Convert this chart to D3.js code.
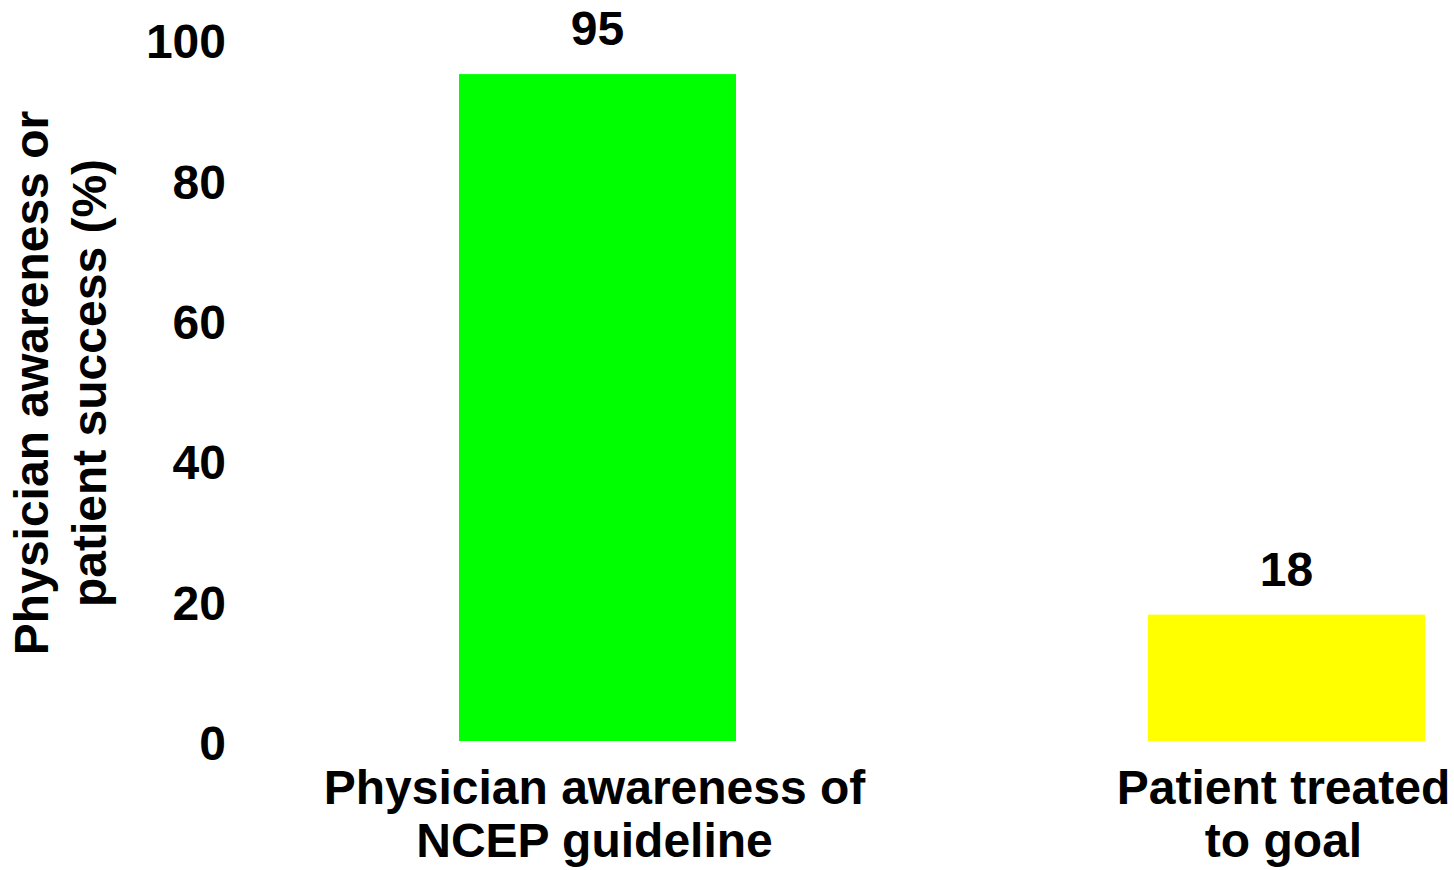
<!DOCTYPE html>
<html>
<head>
<meta charset="utf-8">
<script src="https://cdn.jsdelivr.net/npm/d3@7"></script>
<style>
  html, body { margin: 0; padding: 0; background: #ffffff; }
  svg text { font-family: "Liberation Sans", Arial, sans-serif; font-weight: bold; fill: #000; }
</style>
</head>
<body>
<svg id="chart" width="1454" height="870"></svg>
<script>
// Data
const categories = ["Physician awareness of NCEP guideline", "Patient treated to goal"];
const categoryLines = [["Physician awareness of", "NCEP guideline"], ["Patient treated", "to goal"]];
const values = [95, 18];
const barColors = ["#00ff00", "#ffff00"];
const yTicks = [0, 20, 40, 60, 80, 100];
const yTitleLines = ["Physician awareness or", "patient success (%)"];

const FS = 48;
const svg = d3.select("#chart");

const x = d3.scaleBand()
  .domain(categories)
  .range([253, 1631])
  .paddingInner(0.598)
  .paddingOuter(0.299);

const y = d3.scaleLinear().domain([0, 100]).range([741, 39]);

// Y axis: labels only, no line or tick marks
const yAxis = svg.append("g")
  .attr("transform", "translate(240,0)")
  .call(d3.axisLeft(y).tickValues(yTicks).tickSize(0).tickPadding(14).tickFormat(d3.format("d")));
yAxis.select(".domain").remove();
yAxis.selectAll("text")
  .style("font-size", FS + "px")
  .attr("dy", "0.39em")
  .attr("fill", "#000");

// Bars
svg.append("g").selectAll("rect")
  .data(values)
  .join("rect")
  .attr("x", (d, i) => x(categories[i]))
  .attr("y", d => y(d))
  .attr("width", x.bandwidth())
  .attr("height", d => y(0) - y(d))
  .attr("fill", (d, i) => barColors[i]);

// Value labels
svg.append("g").selectAll("text")
  .data(values)
  .join("text")
  .attr("x", (d, i) => x(categories[i]) + x.bandwidth() / 2)
  .attr("y", d => y(d) - 29)
  .attr("text-anchor", "middle")
  .style("font-size", FS + "px")
  .text(d => d);

// Category labels (two lines each)
const catG = svg.append("g").selectAll("text")
  .data(categories)
  .join("text")
  .attr("text-anchor", "middle")
  .style("font-size", FS + "px")
  .attr("transform", d => `translate(${x(d) + x.bandwidth() / 2 - 3},804)`);
catG.selectAll("tspan")
  .data((d, i) => categoryLines[i])
  .join("tspan")
  .attr("x", 0)
  .attr("dy", (d, j) => j === 0 ? 0 : 53)
  .text(d => d);

// Y axis title
const yTitle = svg.append("text")
  .attr("text-anchor", "middle")
  .style("font-size", FS + "px")
  .attr("transform", "translate(48,383) rotate(-90)");
yTitle.selectAll("tspan")
  .data(yTitleLines)
  .join("tspan")
  .attr("x", 0)
  .attr("dy", (d, j) => j === 0 ? 0 : 58)
  .text(d => d);
</script>
</body>
</html>
